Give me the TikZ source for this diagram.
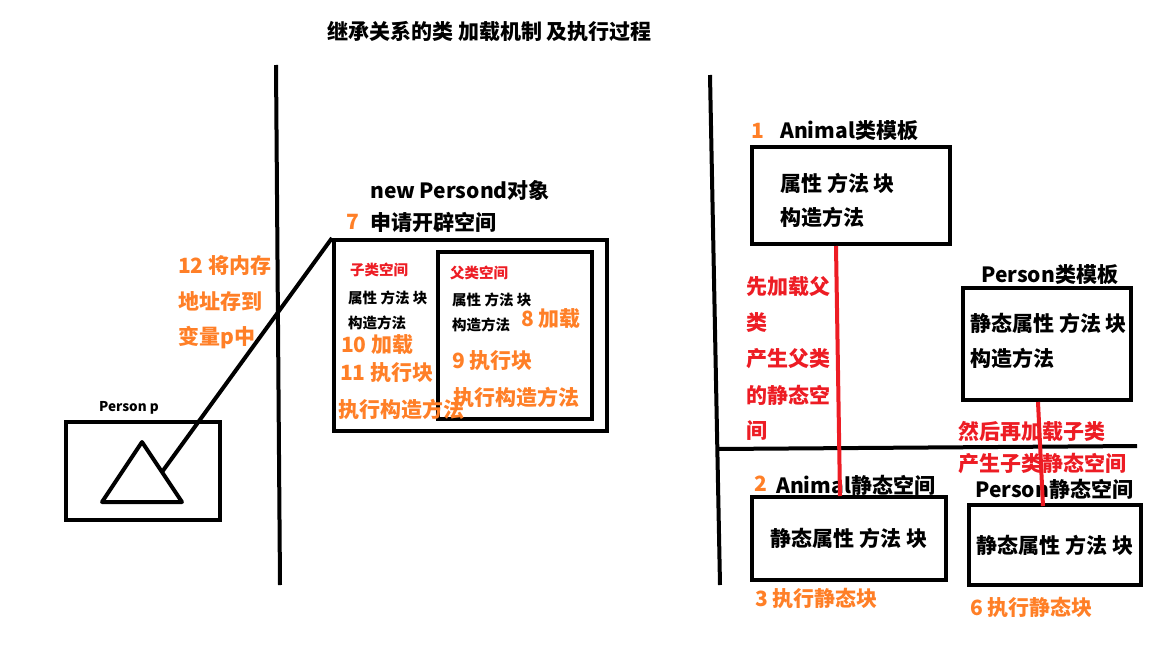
\documentclass[tikz,border=0pt]{standalone}
\usepackage{fontspec}
\newfontfamily\cjk{Noto Sans CJK SC}
\usepackage{xcolor}
\usetikzlibrary{calc, positioning}
\definecolor{paintorange}{RGB}{255,127,39}
\definecolor{paintred}{RGB}{237,28,36}
\tikzset{
  lbl/.style={anchor=west, inner sep=0pt, font=\cjk\bfseries\fontsize{21}{21}\selectfont},
  numlbl/.style={lbl, text=paintorange},
  redlbl/.style={lbl, text=paintred},
  smalllbl/.style={lbl, font=\cjk\bfseries\fontsize{14.5}{14.5}\selectfont},
  box/.style={draw, line width=4pt, inner sep=0pt},
  wall/.style={line width=4pt},
  link/.style={line width=4pt, paintred}
}
\begin{document}
\begin{tikzpicture}[x=1pt, y=-1pt]
\useasboundingbox (0,0) rectangle (1152,648);
% title
\node[lbl] (title) at (327,31) {继承关系的类 加载机制 及执行过程};
% walls
\coordinate (w1a) at (276,65);
\coordinate (w1b) at (280,585);
\coordinate (w2a) at (710,75);
\coordinate (w2b) at (720,585);
\coordinate (w3a) at (718,449);
\coordinate (w3b) at (1137,446);
\draw[wall] (w1a) -- (w1b);
\draw[wall] (w2a) -- (w2b);
\draw[wall] (w3a) -- (w3b);
% stack: variable p
\node[box, minimum width=154, minimum height=98] (pvar) at (143,471) {};
\node[lbl, font=\cjk\bfseries\fontsize{13.5}{13.5}\selectfont] (pname) at (99,408) {Person p};
\coordinate (tl) at (102,502);
\coordinate (tt) at (142,442);
\coordinate (tr) at (182,502);
\draw[line width=4pt, line join=round] (tl) -- (tt) -- (tr) -- cycle;
% heap: new Person object
\node[box, minimum width=273, minimum height=191] (objouter) at (470.5,335.5) {};
\node[box, minimum width=154, minimum height=167] (objinner) at (515,335.5) {};
\draw[line width=4pt] ($(tt)!0.5!(tr)$) -- (objouter.north west);
\node[lbl] (newobj) at (370,190) {new Persond对象};
\node[numlbl] (n7) at (346,222) {7};
\node[lbl] (alloc) at (370,222) {申请开辟空间};
\foreach \txt [count=\i] in {12 将内存,地址存到,变量p中}
  \node[numlbl] (addr\i) at (178,{266+36*(\i-1)}) {\txt};
% child space
\node[smalllbl, text=paintred] (childsp) at (350,270) {子类空间};
\node[smalllbl] (childattr) at (348,298) {属性 方法 块};
\node[smalllbl] (childctor) at (348,323) {构造方法};
\node[numlbl] (n10) at (341,345) {10 加载};
\node[numlbl] (n11) at (340,373) {11 执行块};
\node[numlbl] (n11b) at (338,409) {执行构造方法};
% parent space
\node[smalllbl, text=paintred] (parentsp) at (450,273) {父类空间};
\node[smalllbl] (parentattr) at (452,300) {属性 方法 块};
\node[smalllbl] (parentctor) at (452,325) {构造方法};
\node[numlbl] (n8) at (521,319) {8 加载};
\node[numlbl] (n9) at (452,361) {9 执行块};
\node[numlbl] (n9b) at (453,397) {执行构造方法};
% method area: class templates
\node[numlbl] (n1) at (751,131) {1};
\node[lbl] (animaltpllbl) at (780,131) {Animal类模板};
\node[box, minimum width=198, minimum height=97] (animaltpl) at (851,195.5) {};
\node[lbl] at (780,183) {属性 方法 块};
\node[lbl] at (780,217) {构造方法};
\node[lbl] (persontpllbl) at (981,275) {Person类模板};
\node[box, minimum width=168, minimum height=112] (persontpl) at (1047,344) {};
\node[lbl] at (970,323) {静态属性 方法 块};
\node[lbl] at (970,358) {构造方法};
\foreach \txt [count=\i] in {先加载父,类,产生父类,的静态空,间}
  \node[redlbl] (first\i) at (746,{287+36*(\i-1)}) {\txt};
\node[redlbl] (then1) at (958,432) {然后再加载子类};
\node[redlbl] (then2) at (958,464) {产生子类静态空间};
% static spaces
\node[numlbl] (n2) at (754,484) {2};
\node[lbl] (animalstlbl) at (776,485) {Animal静态空间};
\node[box, minimum width=194, minimum height=83] (animalst) at (849,538.5) {};
\node[lbl, anchor=center] at (animalst) {静态属性 方法 块};
\node[numlbl] (n3) at (755,598) {3 执行静态块};
\node[lbl] (personstlbl) at (975,489) {Person静态空间};
\node[box, minimum width=172, minimum height=80] (personst) at (1055,545) {};
\node[lbl, anchor=center] at (personst) {静态属性 方法 块};
\node[numlbl] (n6) at (970,607) {6 执行静态块};
% load order
\draw[link] ([xshift=86pt]animaltpl.south west) -- ([xshift=90pt, yshift=-1pt]animalst.north west);
\draw[link] ([xshift=77pt]persontpl.south west) -- ([xshift=76pt, yshift=-3pt]personst.north west);
\end{tikzpicture}
\end{document}
